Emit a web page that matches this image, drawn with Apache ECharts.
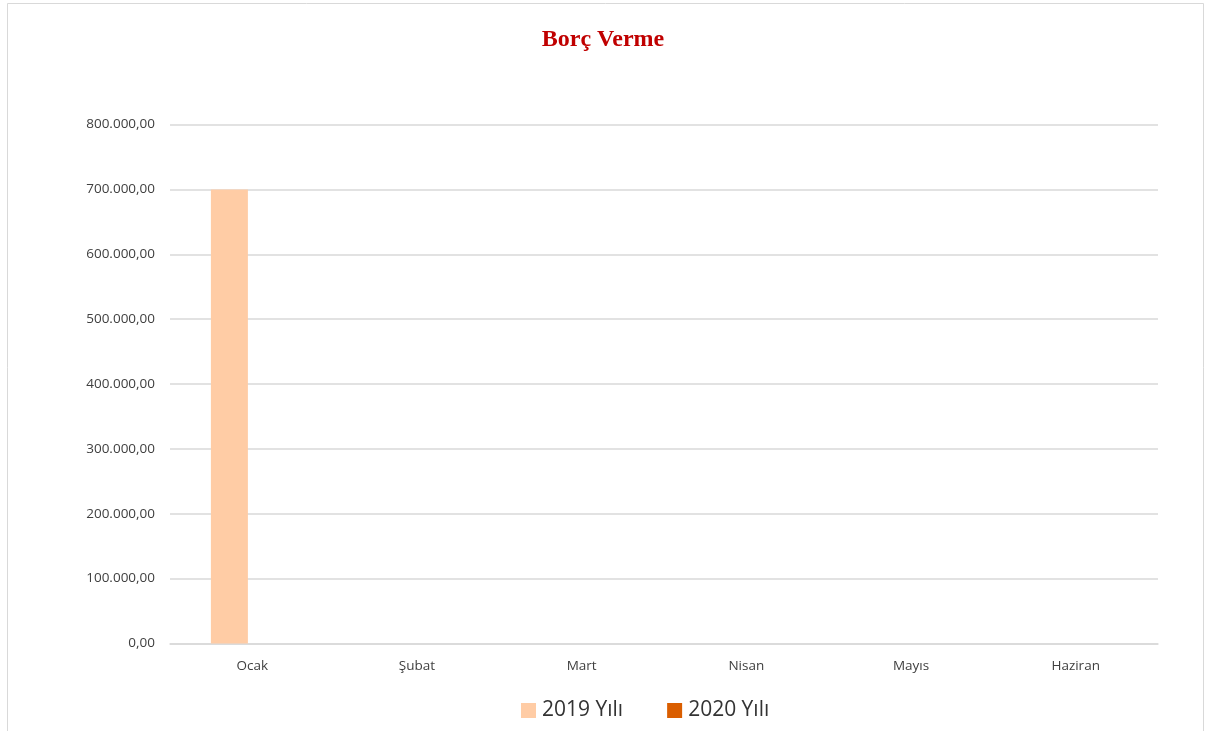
<!DOCTYPE html>
<html><head><meta charset="utf-8">
<script src="https://cdn.jsdelivr.net/npm/echarts@6/dist/echarts.min.js"></script>
<style>html,body{margin:0;padding:0;background:#fff}#c{width:1206px;height:731px}</style>
</head><body><div id="c"></div>
<script>
const categories = ['Ocak', 'Şubat', 'Mart', 'Nisan', 'Mayıs', 'Haziran'];
const series2019 = [700000, 0, 0, 0, 0, 0];
const series2020 = [0, 0, 0, 0, 0, 0];
const seriesNames = ['2019 Yılı', '2020 Yılı'];
const yMax = 800000;
const yInterval = 100000;

function trFormat(v) {
  const parts = v.toFixed(2).split('.');
  const intPart = parts[0].replace(/\B(?=(\d{3})+(?!\d))/g, '.');
  return intPart + ',' + parts[1];
}

const chart = echarts.init(document.getElementById('c'), null, {renderer: 'canvas'});
chart.setOption({
  animation: false,
  backgroundColor: '#ffffff',
  title: {
    text: 'Borç Verme',
    left: 'center',
    top: 23,
    textStyle: {fontFamily: '"Liberation Serif", "Times New Roman", serif', fontWeight: 'bold', fontSize: 24, color: '#C00000'}
  },
  graphic: [{
    type: 'rect', silent: true, z: -1,
    shape: {x: 7.5, y: 3.5, width: 1196, height: 760},
    style: {fill: 'none', stroke: '#d9d9d9', lineWidth: 1}
  }],
  legend: {
    data: seriesNames,
    left: 516,
    top: 695,
    itemWidth: 15,
    itemHeight: 15,
    itemGap: 44,
    icon: 'rect',
    textStyle: {fontFamily: '"Open Sans", sans-serif', fontSize: 21, color: '#333333', padding: [0, 0, 0, 1]}
  },
  grid: {left: 170, right: 48, top: 124.5, bottom: 87.5},
  xAxis: {
    type: 'category',
    data: categories,
    axisLine: {lineStyle: {color: '#d9d9d9', width: 1.5}},
    axisTick: {show: false},
    axisLabel: {fontFamily: '"Open Sans", sans-serif', fontSize: 13.5, color: '#404040', margin: 16}
  },
  yAxis: {
    type: 'value',
    min: 0, max: yMax, interval: yInterval,
    axisLine: {show: false},
    axisTick: {show: false},
    splitLine: {lineStyle: {color: '#d9d9d9', width: 1.5}},
    axisLabel: {fontFamily: '"Open Sans", sans-serif', fontSize: 13.5, color: '#404040', margin: 15, formatter: trFormat}
  },
  series: [
    {name: seriesNames[0], type: 'bar', data: series2019, barWidth: 37, barGap: '24%', itemStyle: {color: '#FFCCA5'}},
    {name: seriesNames[1], type: 'bar', data: series2020, barWidth: 37, itemStyle: {color: '#DA5E00'}}
  ]
});
</script></body></html>
